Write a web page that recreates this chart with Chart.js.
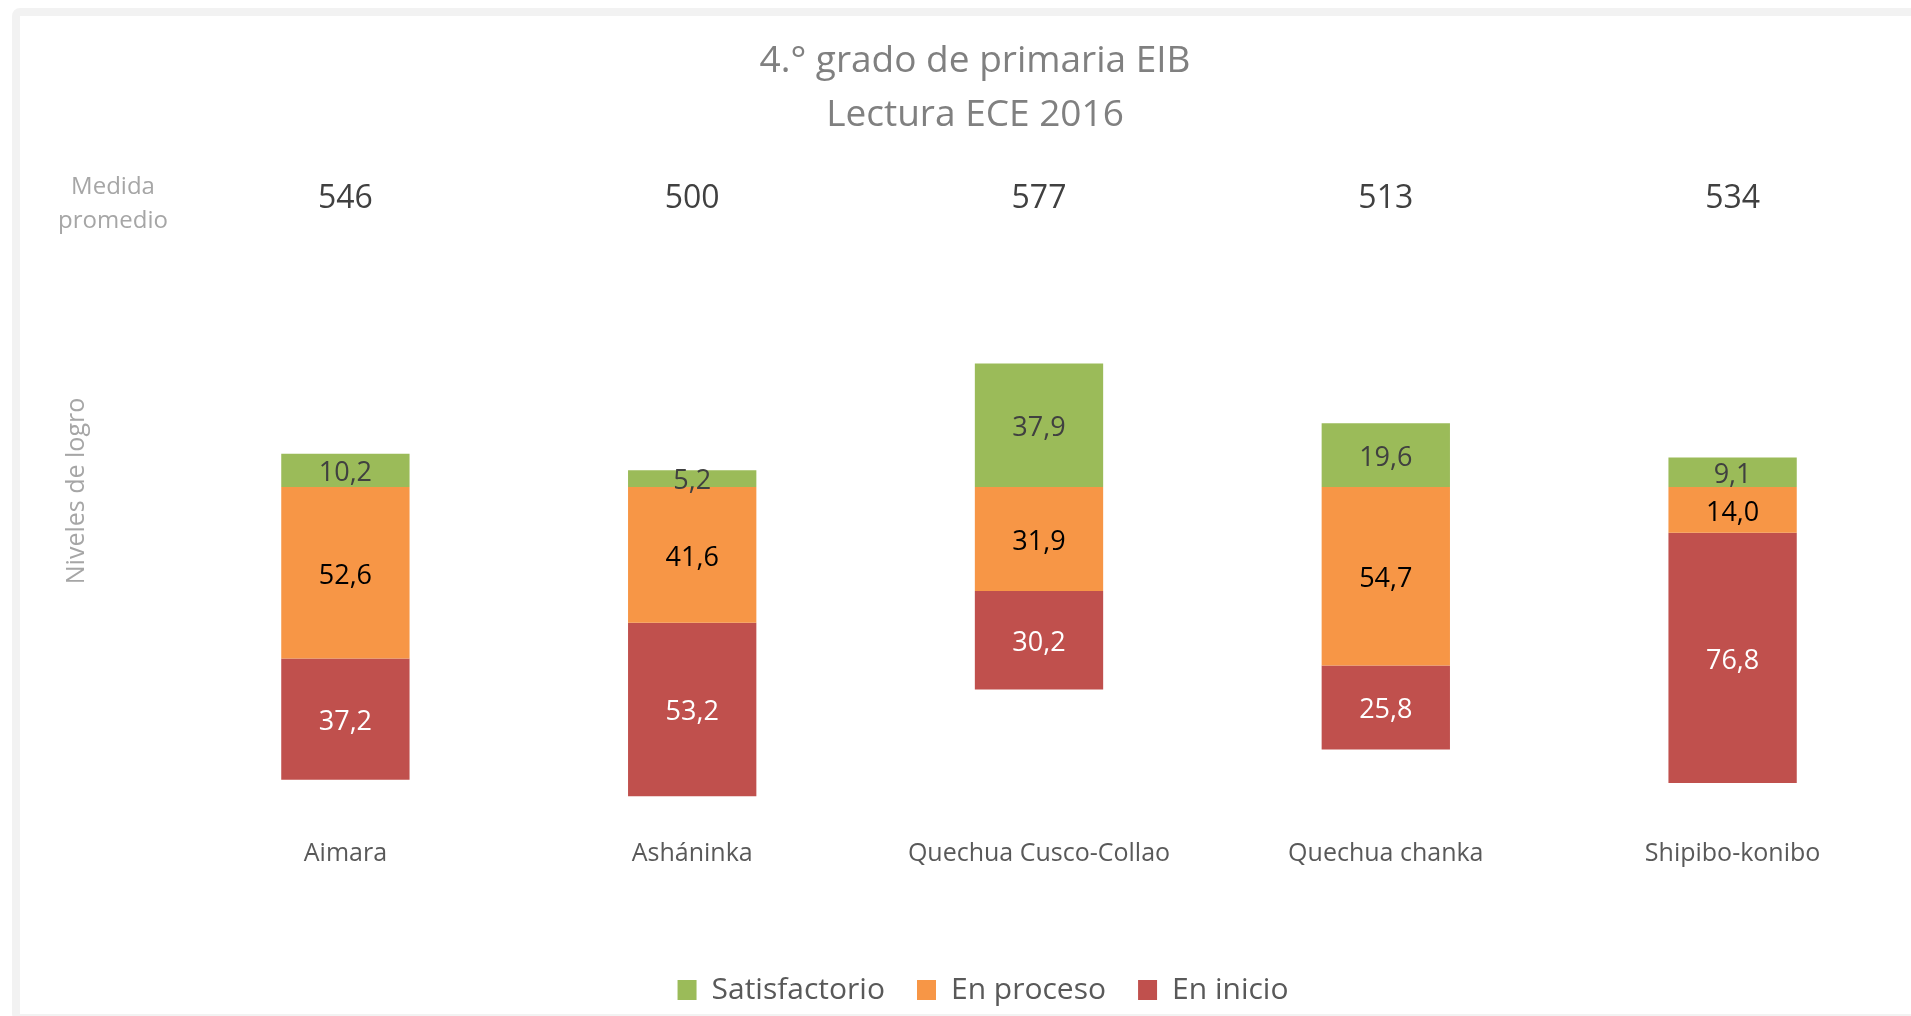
<!DOCTYPE html>
<html>
<head>
<meta charset="utf-8">
<script src="https://cdn.jsdelivr.net/npm/chart.js@4.4.1/dist/chart.umd.min.js"></script>
<style>
  html, body { margin: 0; padding: 0; background: #ffffff; overflow: hidden; }
  #wrap { position: relative; width: 1911px; height: 1016px; }
  #frame { position: absolute; left: 12px; top: 8px; width: 1920px; height: 998px;
           border: 8px solid #f2f2f2; border-radius: 8px; pointer-events: none; }
</style>
</head>
<body>
<div id="wrap">
  <canvas id="c" width="1911" height="1016"></canvas>
  <div id="frame"></div>
</div>
<script>
const categories = ['Aimara', 'Asháninka', 'Quechua Cusco-Collao', 'Quechua chanka', 'Shipibo-konibo'];
const satisfactorio = [10.2, 5.2, 37.9, 19.6, 9.1];
const enProceso = [52.6, 41.6, 31.9, 54.7, 14.0];
const enInicio = [37.2, 53.2, 30.2, 25.8, 76.8];
const medidaPromedio = [546, 500, 577, 513, 534];
const seriesNames = ['Satisfactorio', 'En proceso', 'En inicio'];
const titleLines = ['4.° grado de primaria EIB', 'Lectura ECE 2016'];
const yTitle = 'Niveles de logro';
const medidaLabel = ['Medida', 'promedio'];

const FONT = "'Open Sans', sans-serif";
Chart.defaults.font.family = FONT;

const seriesValues = [satisfactorio, enProceso, enInicio];
const labelColors = ['#404040', '#000000', '#ffffff'];
const fmt = v => v.toFixed(1).replace('.', ',');

const dataLabels = {
  id: 'dataLabels',
  afterDatasetsDraw(chart) {
    const ctx = chart.ctx;
    ctx.save();
    ctx.font = '27px ' + FONT;
    ctx.textAlign = 'center';
    ctx.textBaseline = 'middle';
    chart.data.datasets.forEach((ds, i) => {
      const meta = chart.getDatasetMeta(i);
      ctx.fillStyle = labelColors[i];
      meta.data.forEach((el, j) => {
        const p = el.getCenterPoint();
        ctx.fillText(fmt(seriesValues[i][j]), p.x, p.y + 3);
      });
    });
    ctx.restore();
  }
};

const medidaRow = {
  id: 'medidaRow',
  afterDraw(chart) {
    const ctx = chart.ctx;
    const xs = chart.scales.x;
    ctx.save();
    ctx.textAlign = 'center';
    ctx.textBaseline = 'middle';
    ctx.fillStyle = '#a6a6a6';
    ctx.font = '24px ' + FONT;
    ctx.fillText(medidaLabel[0], 113, 187);
    ctx.fillText(medidaLabel[1], 113, 221);
    ctx.fillStyle = '#404040';
    ctx.font = '32px ' + FONT;
    medidaPromedio.forEach((v, j) => {
      ctx.fillText(String(v), xs.getPixelForValue(j), 199);
    });
    ctx.restore();
  }
};

const boxShift = {
  id: 'boxShift',
  afterLayout(chart) {
    if (chart.legend) { chart.legend.left += 40; }
    if (chart.titleBlock) { chart.titleBlock.left += 12; chart.titleBlock.right += 12; }
  }
};

new Chart(document.getElementById('c'), {
  type: 'bar',
  data: {
    labels: categories,
    datasets: [
      { label: seriesNames[0], data: satisfactorio.slice(), backgroundColor: '#9bbb59' },
      { label: seriesNames[1], data: enProceso.map(v => -v), backgroundColor: '#f79646' },
      { label: seriesNames[2], data: enInicio.map(v => -v), backgroundColor: '#c0504d' }
    ]
  },
  options: {
    responsive: false,
    animation: false,
    layout: { padding: { top: 8, left: 20, right: 5, bottom: 1 } },
    datasets: { bar: { barPercentage: 0.37, categoryPercentage: 1, borderWidth: 0 } },
    scales: {
      x: {
        stacked: true,
        grid: { display: false, drawTicks: false },
        border: { display: false },
        ticks: { color: '#595959', font: { size: 25 }, padding: 21.5, maxRotation: 0 },
        afterFit(scale) { scale.height = 126; }
      },
      y: {
        stacked: true,
        min: -101.2,
        max: 98.8,
        ticks: { display: false, stepSize: 20 },
        border: { display: false },
        grid: {
          z: 1,
          drawTicks: false,
          lineWidth: 2,
          color: ctx => (ctx.tick && ctx.tick.value === 0) ? '#d9d9d9' : 'rgba(0,0,0,0)'
        },
        title: {
          display: true,
          text: yTitle,
          color: '#a6a6a6',
          font: { size: 25 },
          padding: { top: 42, bottom: 0 }
        },
        afterFit(scale) { scale.width = 152; }
      }
    },
    plugins: {
      title: {
        display: true,
        text: titleLines,
        color: '#808080',
        font: { size: 37, weight: 'normal', lineHeight: 54 / 37 },
        padding: { top: 26.5, bottom: 22.5 }
      },
      legend: {
        position: 'bottom',
        labels: {
          color: '#595959',
          font: { size: 30 },
          boxWidth: 19,
          boxHeight: 20,
          padding: 32
        }
      },
      tooltip: { enabled: false }
    }
  },
  plugins: [dataLabels, medidaRow, boxShift]
});
</script>
</body>
</html>
